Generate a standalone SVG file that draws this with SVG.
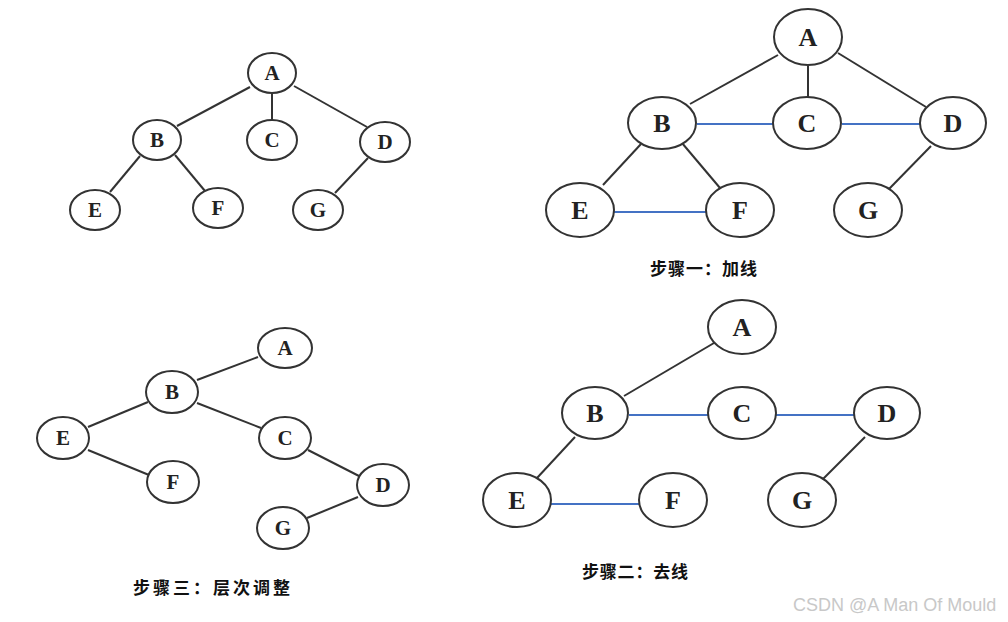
<svg xmlns="http://www.w3.org/2000/svg" width="1008" height="622" viewBox="0 0 1008 622">
<style>
.n ellipse{fill:#fff;stroke:#333;stroke-width:2}
.n text{font-family:"Liberation Serif","DejaVu Serif",serif;font-weight:bold;fill:#222;text-anchor:middle;dominant-baseline:central}
.s text{font-size:21px}
.b text{font-size:26px}
.e line{stroke:#333;stroke-width:2}
.e line.bl{stroke:#4472c4;stroke-width:2}
.lbl{font-family:"Noto Sans CJK SC","Noto Sans",sans-serif;font-weight:bold;font-size:17px;fill:#111}
.wm{font-family:"Liberation Sans",Arial,sans-serif;font-size:18px;fill:#c8c8c8}
</style>
<rect width="1008" height="622" fill="#fff"/>

<g class="e" id="connectors">
<!-- tree 1 -->
<line x1="250" y1="87" x2="177" y2="126"/>
<line x1="272" y1="93" x2="272" y2="120"/>
<line x1="294" y1="86" x2="367" y2="127"/>
<line x1="140" y1="156" x2="110" y2="192"/>
<line x1="175" y1="155" x2="205" y2="191"/>
<line x1="368" y1="158" x2="335" y2="193"/>
<!-- tree 2 -->
<line x1="778" y1="55" x2="690" y2="104"/>
<line x1="808" y1="66" x2="808" y2="97"/>
<line x1="838" y1="53" x2="926" y2="107"/>
<line x1="641" y1="144" x2="603" y2="185"/>
<line x1="682" y1="143" x2="720" y2="188"/>
<line x1="931" y1="146" x2="889" y2="189"/>
<line class="bl" x1="697" y1="124" x2="773" y2="124"/>
<line class="bl" x1="842" y1="124" x2="921" y2="124"/>
<line class="bl" x1="614" y1="212" x2="707" y2="212"/>
<!-- tree 3 -->
<line x1="197" y1="380" x2="258" y2="357"/>
<line x1="148" y1="402" x2="88" y2="427"/>
<line x1="197" y1="403" x2="261" y2="428"/>
<line x1="88" y1="450" x2="149" y2="475"/>
<line x1="308" y1="450" x2="359" y2="476"/>
<line x1="358" y1="497" x2="307" y2="518"/>
<!-- tree 4 -->
<line x1="714" y1="343" x2="624" y2="396"/>
<line x1="575" y1="437" x2="537" y2="478"/>
<line x1="865" y1="437" x2="823" y2="479"/>
<line class="bl" x1="629" y1="415" x2="708" y2="415"/>
<line class="bl" x1="776" y1="415" x2="854" y2="415"/>
<line class="bl" x1="548" y1="504" x2="644" y2="504"/>
</g>

<!-- Tree 1 -->
<g class="n s" id="t1-A"><ellipse cx="272" cy="73" rx="24" ry="20"/><text x="272" y="73">A</text></g>
<g class="n s" id="t1-B"><ellipse cx="157" cy="140" rx="24" ry="20"/><text x="157" y="140">B</text></g>
<g class="n s" id="t1-C"><ellipse cx="272" cy="140" rx="25" ry="20"/><text x="272" y="140">C</text></g>
<g class="n s" id="t1-D"><ellipse cx="385" cy="142" rx="25" ry="20"/><text x="385" y="142">D</text></g>
<g class="n s" id="t1-E"><ellipse cx="95" cy="210" rx="25" ry="20"/><text x="95" y="210">E</text></g>
<g class="n s" id="t1-F"><ellipse cx="218" cy="208" rx="25" ry="20"/><text x="218" y="208">F</text></g>
<g class="n s" id="t1-G"><ellipse cx="318" cy="210" rx="25" ry="20"/><text x="318" y="210">G</text></g>

<!-- Tree 2 -->
<g class="n b" id="t2-A"><ellipse cx="808" cy="37" rx="34" ry="28"/><text x="808" y="37">A</text></g>
<g class="n b" id="t2-B"><ellipse cx="662" cy="123" rx="34" ry="26"/><text x="662" y="123">B</text></g>
<g class="n b" id="t2-C"><ellipse cx="807" cy="123" rx="34" ry="26"/><text x="807" y="123">C</text></g>
<g class="n b" id="t2-D"><ellipse cx="953" cy="123" rx="33" ry="26"/><text x="953" y="123">D</text></g>
<g class="n b" id="t2-E"><ellipse cx="580" cy="210" rx="34" ry="27"/><text x="580" y="210">E</text></g>
<g class="n b" id="t2-F"><ellipse cx="740" cy="210" rx="34" ry="27"/><text x="740" y="210">F</text></g>
<g class="n b" id="t2-G"><ellipse cx="868" cy="210" rx="34" ry="27"/><text x="868" y="210">G</text></g>

<!-- Tree 3 -->
<g class="n s" id="t3-A"><ellipse cx="285" cy="348" rx="27" ry="20"/><text x="285" y="348">A</text></g>
<g class="n s" id="t3-B"><ellipse cx="172" cy="392" rx="26" ry="21"/><text x="172" y="392">B</text></g>
<g class="n s" id="t3-E"><ellipse cx="63" cy="438" rx="26" ry="21"/><text x="63" y="438">E</text></g>
<g class="n s" id="t3-C"><ellipse cx="285" cy="438" rx="26" ry="21"/><text x="285" y="438">C</text></g>
<g class="n s" id="t3-F"><ellipse cx="173" cy="482" rx="26" ry="21"/><text x="173" y="482">F</text></g>
<g class="n s" id="t3-D"><ellipse cx="383" cy="485" rx="26" ry="21"/><text x="383" y="485">D</text></g>
<g class="n s" id="t3-G"><ellipse cx="283" cy="528" rx="26" ry="21"/><text x="283" y="528">G</text></g>

<!-- Tree 4 -->
<g class="n b" id="t4-A"><ellipse cx="742" cy="327" rx="34" ry="27"/><text x="742" y="327">A</text></g>
<g class="n b" id="t4-B"><ellipse cx="595" cy="413" rx="33" ry="26"/><text x="595" y="413">B</text></g>
<g class="n b" id="t4-C"><ellipse cx="742" cy="413" rx="34" ry="26"/><text x="742" y="413">C</text></g>
<g class="n b" id="t4-D"><ellipse cx="887" cy="413" rx="33" ry="26"/><text x="887" y="413">D</text></g>
<g class="n b" id="t4-E"><ellipse cx="517" cy="500" rx="34" ry="27"/><text x="517" y="500">E</text></g>
<g class="n b" id="t4-F"><ellipse cx="673" cy="500" rx="34" ry="27"/><text x="673" y="500">F</text></g>
<g class="n b" id="t4-G"><ellipse cx="802" cy="500" rx="34" ry="27"/><text x="802" y="500">G</text></g>

<text class="lbl" x="650" y="275" textLength="107" lengthAdjust="spacing">步骤一：加线</text>
<text class="lbl" x="582" y="578" textLength="106" lengthAdjust="spacing">步骤二：去线</text>
<text class="lbl" x="133" y="594" textLength="157" lengthAdjust="spacing">步骤三：层次调整</text>
<text class="wm" x="793" y="611">CSDN @A Man Of Mould</text>
</svg>
